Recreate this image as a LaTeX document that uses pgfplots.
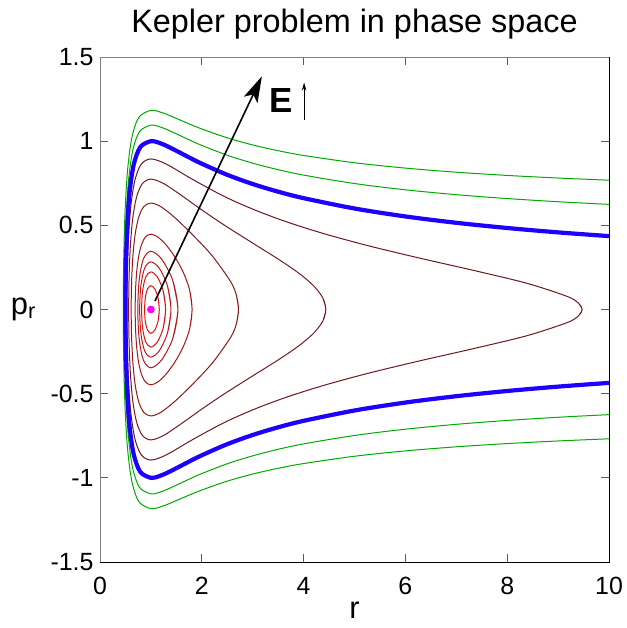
\documentclass[border=0pt]{standalone}
\usepackage{fontspec}
\setmainfont{Liberation Sans}
\usepackage{pgfplots}
\pgfplotsset{compat=1.18}
\usetikzlibrary{arrows.meta}
\definecolor{cA}{RGB}{220,20,20}
\definecolor{cB}{RGB}{210,22,22}
\definecolor{cC}{RGB}{198,24,24}
\definecolor{cD}{RGB}{182,25,25}
\definecolor{cE}{RGB}{165,25,25}
\definecolor{cF}{RGB}{140,25,25}
\definecolor{cG}{RGB}{120,25,28}
\definecolor{cH}{RGB}{105,25,30}
\definecolor{grn}{RGB}{0,170,0}
\definecolor{blu}{RGB}{30,0,255}
\definecolor{mag}{RGB}{255,0,255}
\begin{document}
\begin{tikzpicture}
\begin{axis}[
  name=ax, at={(0,0)}, anchor=south west,
  scale only axis, width=509bp, height=505bp,
  xmin=0, xmax=10, ymin=-1.5, ymax=1.5,
  xtick={0,2,4,6,8,10}, xticklabels={0,2,4,6,8,10},
  ytick={-1.5,-1,-0.5,0,0.5,1,1.5}, yticklabels={-1.5,-1,-0.5,0,0.5,1,1.5},
  /pgf/number format/assume math mode=true,
  tick align=inside, major tick length=8bp,
  tick style={color=gray!70!black, line width=0.8bp},
  axis line style={color=gray, line width=0.8bp},
  ticklabel style={font=\fontsize{25}{30}\selectfont},
  xticklabel style={yshift=-12bp},
  yticklabel style={xshift=-3bp},
  title={Kepler problem in phase space},
  title style={font=\fontsize{32.5}{38}\selectfont, yshift=8bp},
  xlabel={r}, ylabel={p\textsubscript{r}},
  label style={font=\fontsize{31}{36}\selectfont},
  ylabel style={rotate=-90, xshift=-8bp},
  every axis plot/.append style={smooth, line width=1bp},
]
% bound orbits (closed loops)
\addplot[cA] coordinates {(1.13956,-0.07071) (1.16471,0) (1.13956,0.07071) (1.07609,0.12247) (1,0.14142) (0.93396,0.12247) (0.89089,0.07071) (0.87610,0) (0.89089,-0.07071) (0.93396,-0.12247) (1,-0.14142) (1.07609,-0.12247) (1.13956,-0.07071) (1.16471,0) (1.13956,0.07071)};
\addplot[cB] coordinates {(1.24016,-0.11180) (1.28801,0) (1.24016,0.11180) (1.12587,0.19365) (1,0.22361) (0.89944,0.19365) (0.83777,0.11180) (0.81725,0) (0.83777,-0.11180) (0.89944,-0.19365) (1,-0.22361) (1.12587,-0.19365) (1.24016,-0.11180) (1.28801,0) (1.24016,0.11180)};
\addplot[cC] coordinates {(1.32442,-0.14142) (1.39439,0) (1.32442,0.14142) (1.16471,0.24495) (1,0.28284) (0.87610,0.24495) (0.80324,0.14142) (0.77952,0) (0.80324,-0.14142) (0.87610,-0.24495) (1,-0.28284) (1.16471,-0.24495) (1.32442,-0.14142) (1.39439,0) (1.32442,0.14142)};
\addplot[cD] coordinates {(1.42857,-0.17321) (1.53001,0) (1.42857,0.17321) (1.20950,0.3) (1,0.34641) (0.85236,0.3) (0.76923,0.17321) (0.74271,0) (0.76923,-0.17321) (0.85236,-0.3) (1,-0.34641) (1.20950,-0.3) (1.42857,-0.17321) (1.53001,0) (1.42857,0.17321)};
\addplot[cE] coordinates {(1.76047,-0.11575) (1.80901,0) (1.76047,0.11575) (1.63212,0.22361) (1.46248,0.31623) (1.28801,0.38730) (1.13090,0.43197) (1,0.44721) (0.89626,0.43197) (0.81725,0.38730) (0.75975,0.31623) (0.72082,0.22361) (0.69834,0.11575) (0.69098,0) (0.69834,-0.11575) (0.72082,-0.22361) (0.75975,-0.31623) (0.81725,-0.38730) (0.89626,-0.43197) (1,-0.44721) (1.13090,-0.43197) (1.28801,-0.38730) (1.46248,-0.31623) (1.63212,-0.22361) (1.76047,-0.11575) (1.80901,0) (1.76047,0.11575)};
\addplot[cF] coordinates {(2.68133,-0.08256) (2.72079,0) (2.68133,0.08256) (2.57010,0.16369) (2.21102,0.31623) (1.80904,0.44722) (1.46248,0.54772) (1.19573,0.61091) (1,0.63246) (0.85934,0.61091) (0.75975,0.54772) (0.69098,0.44722) (0.64611,0.31623) (0.62077,0.16369) (0.61257,0) (0.62077,-0.16369) (0.64611,-0.31623) (0.69098,-0.44722) (0.75975,-0.54772) (0.85934,-0.61091) (1,-0.63246) (1.19573,-0.61091) (1.46248,-0.54772) (1.80904,-0.44722) (2.21102,-0.31623) (2.57010,-0.16369) (2.68133,-0.08256) (2.72079,0) (2.68133,0.08256)};
\addplot[cG] coordinates {(4.37924,-0.06751) (4.43656,0) (4.37924,0.06751) (4.21639,0.13451) (3.97172,0.20048) (3.67485,0.26493) (3.35604,0.32736) (3.03785,0.38730) (2.45924,0.49791) (1.99167,0.59337) (1.63212,0.67082) (1.25075,0.74822) (1,0.77460) (0.83300,0.74822) (0.72082,0.67082) (0.64611,0.54773) (0.59851,0.38730) (0.57201,0.20048) (0.56351,0) (0.57201,-0.20048) (0.59851,-0.38730) (0.64611,-0.54773) (0.72082,-0.67082) (0.83300,-0.74822) (1,-0.77460) (1.25075,-0.74822) (1.63212,-0.67082) (1.99167,-0.59337) (2.45924,-0.49791) (3.03785,-0.38730) (3.35604,-0.32736) (3.67485,-0.26493) (3.97172,-0.20048) (4.21639,-0.13451) (4.37924,-0.06751) (4.43656,0) (4.37924,0.06751)};
\addplot[cH] coordinates {(9.39673,-0.03902) (9.47239,0) (9.39673,0.03902) (9.17599,0.07796) (8.39208,0.15532) (7.35078,0.23150) (6.26920,0.30591) (5.28067,0.37800) (4.43656,0.44721) (3.74070,0.51302) (3.17632,0.57493) (2.72079,0.63246) (2.35255,0.68517) (1.80901,0.77460) (1.30124,0.86396) (1,0.89443) (0.81202,0.86396) (0.69098,0.77460) (0.61257,0.63246) (0.56351,0.44721) (0.53649,0.23150) (0.52786,0) (0.53649,-0.23150) (0.56351,-0.44721) (0.61257,-0.63246) (0.69098,-0.77460) (0.81202,-0.86396) (1,-0.89443) (1.30124,-0.86396) (1.80901,-0.77460) (2.35255,-0.68517) (2.72079,-0.63246) (3.17632,-0.57493) (3.74070,-0.51302) (4.43656,-0.44721) (5.28067,-0.37800) (6.26920,-0.30591) (7.35078,-0.23150) (8.39208,-0.15532) (9.17599,-0.07796) (9.39673,-0.03902) (9.47239,0) (9.39673,0.03902)};
% unbound orbits
\addplot[grn] coordinates {(10,0.76811) (9,0.78095) (8,0.79648) (7,0.81566) (6,0.83997) (5,0.87178) (4,0.91515) (3.5,0.94329) (3,0.97753) (2.5,1.01980) (2,1.07238) (1.75,1.10287) (1.5,1.13529) (1.3,1.16049) (1.15,1.17601) (1,1.18322) (0.76556,1.14292) (0.62829,1.02470) (0.54446,0.83667) (0.49390,0.59161) (0.46665,0.30624) (0.45804,0) (0.46665,-0.30624) (0.49390,-0.59161) (0.54446,-0.83667) (0.62829,-1.02470) (0.76556,-1.14292) (1,-1.18322) (1.15,-1.17601) (1.3,-1.16049) (1.5,-1.13529) (1.75,-1.10287) (2,-1.07238) (2.5,-1.01980) (3,-0.97753) (3.5,-0.94329) (4,-0.91515) (5,-0.87178) (6,-0.83997) (7,-0.81566) (8,-0.79648) (9,-0.78095) (10,-0.76811)};
\addplot[grn] coordinates {(10,0.62450) (9,0.64022) (8,0.65907) (7,0.68213) (6,0.71103) (5,0.74833) (4,0.79844) (3.5,0.83054) (3,0.86923) (2.5,0.91652) (2,0.97468) (1.75,1.00813) (1.5,1.04350) (1.3,1.07086) (1.15,1.08765) (1,1.09545) (0.77911,1.05813) (0.64611,0.94869) (0.56351,0.77460) (0.51317,0.54772) (0.48588,0.28352) (0.47722,0) (0.48588,-0.28352) (0.51317,-0.54772) (0.56351,-0.77460) (0.64611,-0.94869) (0.77911,-1.05813) (1,-1.09545) (1.15,-1.08765) (1.3,-1.07086) (1.5,-1.04350) (1.75,-1.00813) (2,-0.97468) (2.5,-0.91652) (3,-0.86923) (3.5,-0.83054) (4,-0.79844) (5,-0.74833) (6,-0.71103) (7,-0.68213) (8,-0.65907) (9,-0.64022) (10,-0.62450)};
\addplot[blu, line width=4.2bp] coordinates {(10,0.43589) (9,0.45813) (8,0.48412) (7,0.51508) (6,0.55277) (5,0.6) (4,0.66144) (3.5,0.69985) (3,0.74536) (2.5,0.8) (2,0.86603) (1.75,0.90351) (1.5,0.94281) (1.3,0.97301) (1.15,0.99146) (1,1) (0.79440,0.96593) (0.66667,0.86603) (0.58579,0.70711) (0.53590,0.5) (0.50867,0.25882) (0.5,0) (0.50867,-0.25882) (0.53590,-0.5) (0.58579,-0.70711) (0.66667,-0.86603) (0.79440,-0.96593) (1,-1) (1.15,-0.99146) (1.3,-0.97301) (1.5,-0.94281) (1.75,-0.90351) (2,-0.86603) (2.5,-0.8) (3,-0.74536) (3.5,-0.69985) (4,-0.66144) (5,-0.6) (6,-0.55277) (7,-0.51508) (8,-0.48412) (9,-0.45813) (10,-0.43589)};
% minimum of the effective potential
\addplot[only marks, mark=*, mark size=3.3bp, mag, mark options={draw=mag, fill=mag}] coordinates {(1,0)};
% annotation
\draw[-{Stealth[length=26bp,width=15bp,inset=6bp]}, line width=1.6bp] (axis cs:1.08,0.05) -- (axis cs:3.18,1.385);
\node[font=\fontsize{35}{40}\selectfont\bfseries] at (axis cs:3.556,1.242) {E};
\draw[-{Stealth[length=8bp,width=4.5bp]}, line width=0.9bp] (axis cs:4.01,1.126) -- (axis cs:4.01,1.348);
\end{axis}
\draw[black, line width=1bp] (ax.south west) -- (ax.south east) -- (ax.north east);
\path (-100bp,-66bp) rectangle (523bp,562bp);
\end{tikzpicture}
\end{document}
